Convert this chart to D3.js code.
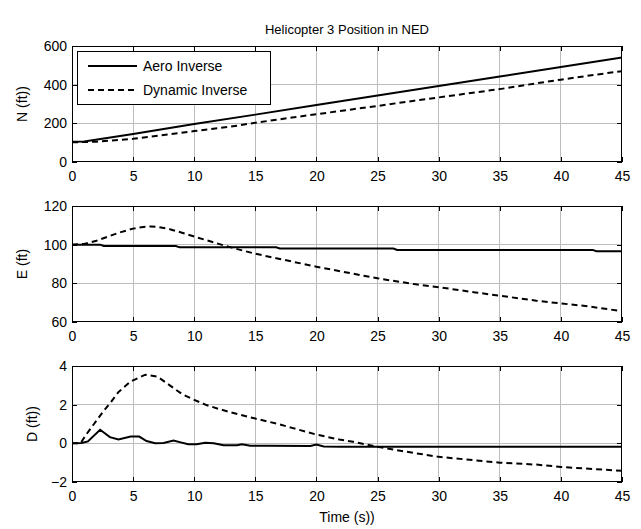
<!DOCTYPE html>
<html>
<head>
<meta charset="utf-8">
<script src="https://cdn.jsdelivr.net/npm/d3@7"></script>
<style>
  html, body { margin: 0; padding: 0; background: #fff; }
  svg { display: block; font-family: "Liberation Sans", Arial, sans-serif; }
</style>
</head>
<body>
<svg id="chart" width="641" height="529"></svg>
<script>
// ---------- data ----------
const titleText = "Helicopter 3 Position in NED";
const xLabelText = "Time (s))";
const xTicks = [0, 5, 10, 15, 20, 25, 30, 35, 40, 45];
const seriesNames = ["Aero Inverse", "Dynamic Inverse"];

// North panel
const nLabel = "N (ft))";
const nTicks = [0, 200, 400, 600];
const nAeroT = [0, 1, 5, 10, 15, 20, 25, 30, 35, 40, 45];
const nAeroV = [105, 106, 145, 196, 245, 295, 344, 393, 442, 491, 540];
const nDynT = [0, 2, 5, 8, 10, 13, 15, 18, 20, 23, 25, 28, 30, 33, 35, 38, 40, 43, 45];
const nDynV = [102, 105, 120, 143, 160, 183, 203, 230, 247, 273, 290, 317, 334, 360, 377, 407, 426, 453, 470];

// East panel
const eLabel = "E (ft)";
const eTicks = [60, 80, 100, 120];
const eAeroT = [0, 2.3, 2.6, 8.5, 8.8, 16.7, 17.0, 26.3, 26.6, 42.6, 42.9, 45];
const eAeroV = [100, 100, 99.3, 99.3, 98.6, 98.6, 98.0, 98.0, 97.3, 97.3, 96.6, 96.6];
const eDynT = [0, 1, 2, 3, 4, 5, 6, 6.5, 7, 8, 9, 10, 11, 12, 13, 14, 15, 17, 20, 22, 25, 28, 30, 33, 35, 38, 40, 42, 45];
const eDynV = [100, 100.4, 102, 104.3, 106.5, 108.3, 109.3, 109.4, 109.2, 108, 106.2, 104.2, 102.3, 100.4, 98.6, 96.9, 95.3, 92.6, 88.6, 86.2, 82.6, 79.6, 78, 75.3, 73.6, 71, 69.6, 68.3, 65.6];

// Down panel
const dLabel = "D (ft))";
const dTicks = [-2, 0, 2, 4];
const dAeroT = [0, 0.8, 1.3, 2.3, 3.1, 3.8, 4.8, 5.5, 6.1, 6.8, 7.5, 8.3, 8.9, 9.5, 10.2, 10.9, 11.6, 12.4, 13.5, 13.9, 14.6, 16, 19.5, 20, 20.6, 22, 45];
const dAeroV = [0, 0.02, 0.1, 0.7, 0.32, 0.2, 0.35, 0.35, 0.12, 0, 0.02, 0.15, 0.05, -0.05, -0.05, 0.03, 0, -0.1, -0.1, -0.05, -0.12, -0.13, -0.14, -0.06, -0.16, -0.18, -0.18];
const dDynT = [0, 0.7, 1.1, 1.8, 2.5, 3.2, 3.8, 4.8, 6, 7, 8, 9, 10, 11, 12, 13, 15, 17, 18, 20, 22, 23, 25, 27, 28, 30, 32, 35, 38, 40, 42, 45];
const dDynV = [0, 0, 0.4, 1.0, 1.6, 2.15, 2.65, 3.2, 3.55, 3.45, 3.0, 2.55, 2.25, 1.98, 1.78, 1.6, 1.28, 0.98, 0.8, 0.45, 0.18, 0.08, -0.18, -0.4, -0.5, -0.7, -0.82, -1.0, -1.1, -1.22, -1.3, -1.42];

// ---------- layout ----------
const W = 641, H = 529;
const left = 72, right = 622;
const panelH = 116;
const panels = [
  { top: 46, label: nLabel, ticks: nTicks, aero: [nAeroT, nAeroV], dyn: [nDynT, nDynV], labelX: 22, legend: true },
  { top: 206, label: eLabel, ticks: eTicks, aero: [eAeroT, eAeroV], dyn: [eDynT, eDynV], labelX: 22 },
  { top: 366, label: dLabel, ticks: dTicks, aero: [dAeroT, dAeroV], dyn: [dDynT, dDynV], labelX: 32 }
];
const FS = 14;
const dashPattern = "6,4";
const lineW = 2;

const svg = d3.select("#chart");
svg.append("rect").attr("width", W).attr("height", H).attr("fill", "#fff");

const x = d3.scaleLinear().domain([xTicks[0], xTicks[xTicks.length - 1]]).range([left, right]);

panels.forEach(p => {
  const y = d3.scaleLinear().domain([p.ticks[0], p.ticks[p.ticks.length - 1]]).range([p.top + panelH, p.top]);
  const g = svg.append("g");

  // grid
  const grid = g.append("g").attr("stroke", "#bdbdbd").attr("stroke-width", 1).attr("shape-rendering", "crispEdges");
  grid.selectAll("line.v").data(xTicks.slice(1, -1)).join("line")
    .attr("x1", d => x(d)).attr("x2", d => x(d)).attr("y1", p.top).attr("y2", p.top + panelH);
  grid.selectAll("line.h").data(p.ticks.slice(1, -1)).join("line")
    .attr("x1", left).attr("x2", right).attr("y1", d => y(d)).attr("y2", d => y(d));

  // lines
  const mk = (T, V) => T.map((t, i) => [t, V[i]]);
  const line = d3.line().x(d => x(d[0])).y(d => y(d[1]));
  const clipId = "clip" + p.top;
  svg.append("clipPath").attr("id", clipId).append("rect")
    .attr("x", left).attr("y", p.top - 2).attr("width", right - left).attr("height", panelH + 4);
  g.append("path").datum(mk(p.aero[0], p.aero[1])).attr("d", line)
    .attr("fill", "none").attr("stroke", "#000").attr("stroke-width", lineW).attr("clip-path", `url(#${clipId})`);
  g.append("path").datum(mk(p.dyn[0], p.dyn[1])).attr("d", line)
    .attr("fill", "none").attr("stroke", "#000").attr("stroke-width", lineW)
    .attr("stroke-dasharray", dashPattern).attr("clip-path", `url(#${clipId})`);

  // axes
  const styleAxis = sel => {
    sel.select(".domain").remove();
    sel.selectAll("line").attr("stroke", "#000");
    sel.selectAll("text").attr("font-size", FS).attr("fill", "#000").attr("font-family", "Liberation Sans, Arial, sans-serif");
    sel.attr("shape-rendering", "crispEdges");
  };
  g.append("g").attr("transform", `translate(0,${p.top + panelH})`)
    .call(d3.axisBottom(x).tickValues(xTicks).tickSizeInner(-5).tickSizeOuter(0).tickPadding(9).tickFormat(d3.format("d")))
    .call(styleAxis);
  g.append("g").attr("transform", `translate(0,${p.top})`)
    .call(d3.axisTop(x).tickValues(xTicks).tickSizeInner(-5).tickSizeOuter(0).tickFormat(""))
    .call(styleAxis);
  g.append("g").attr("transform", `translate(${left},0)`)
    .call(d3.axisLeft(y).tickValues(p.ticks).tickSizeInner(-5).tickSizeOuter(0).tickPadding(5).tickFormat(d3.format("d")))
    .call(styleAxis);
  g.append("g").attr("transform", `translate(${right},0)`)
    .call(d3.axisRight(y).tickValues(p.ticks).tickSizeInner(-5).tickSizeOuter(0).tickFormat(""))
    .call(styleAxis);

  // box
  g.append("rect").attr("x", left + 0.5).attr("y", p.top + 0.5)
    .attr("width", right - left - 1).attr("height", panelH - 1)
    .attr("fill", "none").attr("stroke", "#000").attr("stroke-width", 1);

  // y label
  g.append("text").attr("transform", `translate(${p.labelX},${p.top + panelH / 2}) rotate(-90)`)
    .attr("text-anchor", "middle").attr("dominant-baseline", "central")
    .attr("font-size", FS).text(p.label);

  // legend
  if (p.legend) {
    const lg = g.append("g");
    lg.append("rect").attr("x", 77.5).attr("y", 51.5).attr("width", 193).attr("height", 53)
      .attr("fill", "#fff").attr("stroke", "#000").attr("stroke-width", 1);
    const rows = [66, 90];
    seriesNames.forEach((name, i) => {
      lg.append("line").attr("x1", 88).attr("x2", 137).attr("y1", rows[i]).attr("y2", rows[i])
        .attr("stroke", "#000").attr("stroke-width", lineW)
        .attr("stroke-dasharray", i === 1 ? dashPattern : null);
      lg.append("text").attr("x", 143).attr("y", rows[i]).attr("dominant-baseline", "central")
        .attr("font-size", FS).text(name);
    });
  }
});

// title & x label
svg.append("text").attr("x", (left + right) / 2).attr("y", 29).attr("text-anchor", "middle")
  .attr("dominant-baseline", "central").attr("font-size", 13).text(titleText);
svg.append("text").attr("x", (left + right) / 2).attr("y", 517).attr("text-anchor", "middle")
  .attr("dominant-baseline", "central").attr("font-size", FS).text(xLabelText);
</script>
</body>
</html>
